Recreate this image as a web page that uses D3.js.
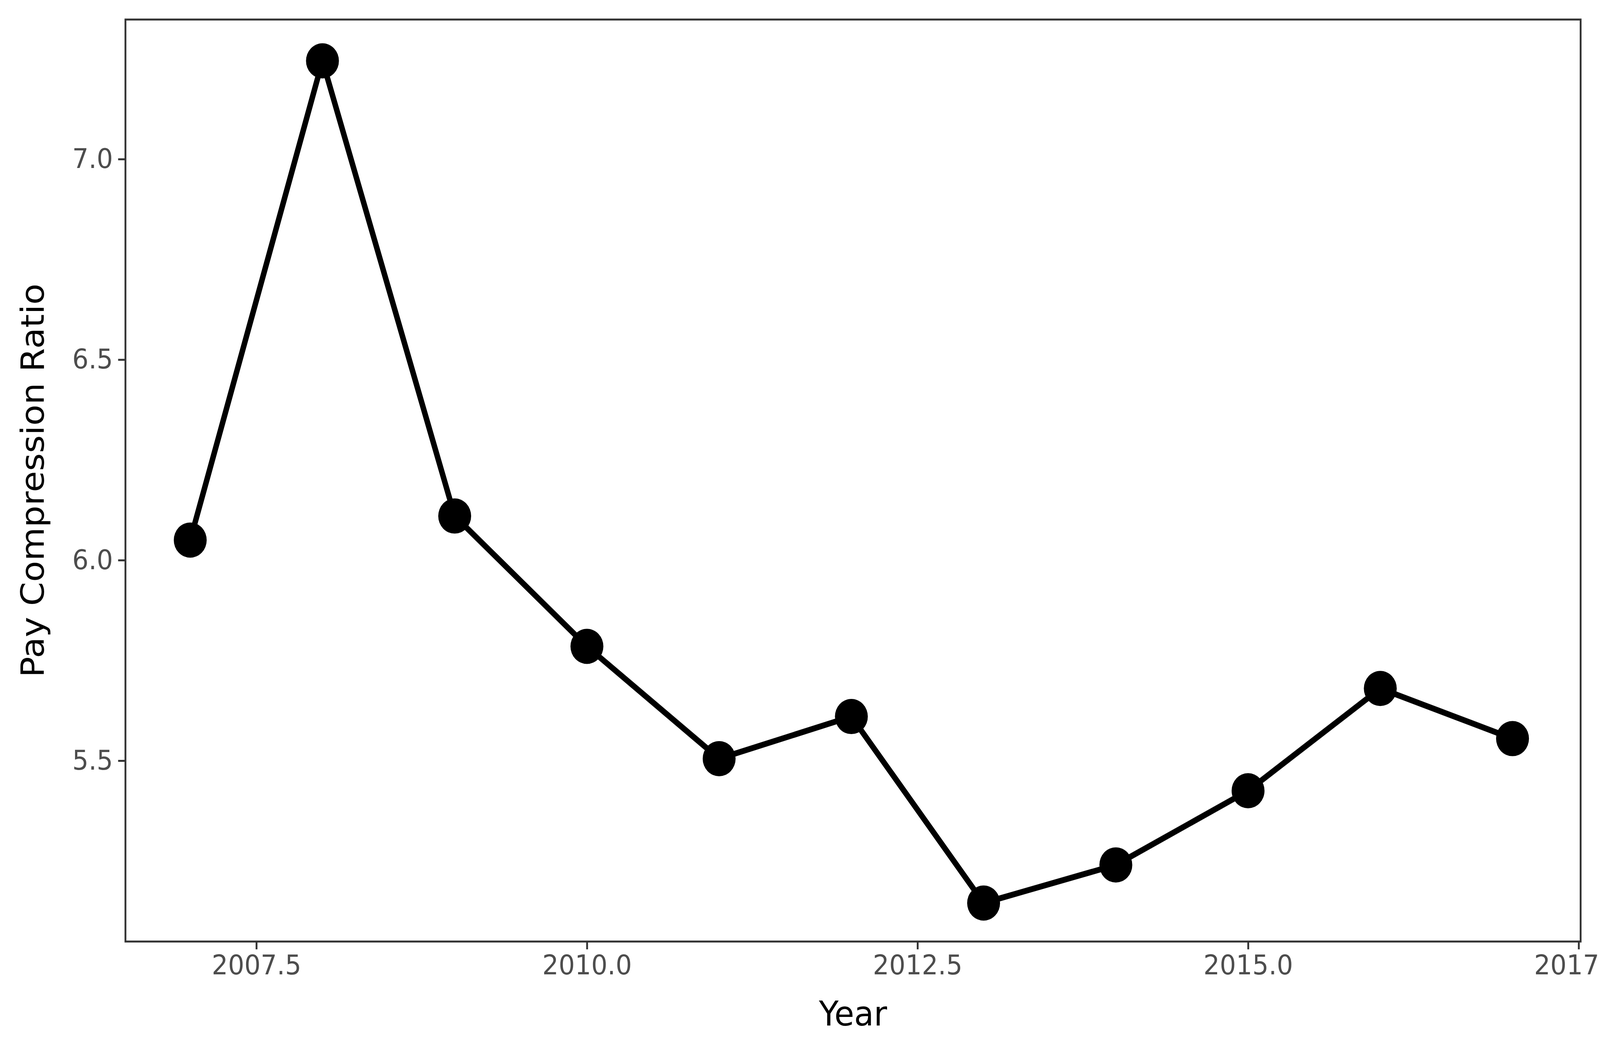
<!DOCTYPE html><html><head><script src="https://cdn.jsdelivr.net/npm/d3@7"></script>
<style>html,body{margin:0;padding:0;background:#fff;overflow:hidden}svg{display:block}</style></head><body><script>
const years=[2007,2008,2009,2010,2011,2012,2013,2014,2015,2016,2017];
const ratios=[6.05,7.245,6.11,5.785,5.505,5.61,5.145,5.24,5.425,5.68,5.555];
const xTicks=[2007.5,2010.0,2012.5,2015.0,2017.5];
const yTicks=[5.5,6.0,6.5,7.0];
const W=4375,H=2703,L=343,T=50,R=4322,B=2410;
const svg=d3.select("body").append("svg").attr("width","100vw").attr("height","100vh")
  .attr("viewBox",`0 0 ${W} ${H}`).attr("preserveAspectRatio","none").style("overflow","hidden");
const x=d3.scaleLinear().domain([2006.51,2017.515]).range([L,R]);
const y=d3.scaleLinear().domain([5.049,7.348]).range([B,T]);
const font="DejaVu Sans";
const xa=svg.append("g").attr("transform",`translate(0,${B})`).call(d3.axisBottom(x).tickValues(xTicks).tickFormat(d3.format(".1f")).tickSize(20).tickPadding(14));
const ya=svg.append("g").attr("transform",`translate(${L},0)`).call(d3.axisLeft(y).tickValues(yTicks).tickFormat(d3.format(".1f")).tickSize(20).tickPadding(14));
[xa,ya].forEach(a=>{a.select(".domain").remove();a.selectAll("line").attr("stroke","#333").attr("stroke-width",5);
a.selectAll("text").attr("fill","#4d4d4d").attr("font-size",70).attr("font-family",font);});
svg.append("path").datum(years.map((d,i)=>[d,ratios[i]])).attr("fill","none").attr("stroke","#000").attr("stroke-width",15)
.attr("d",d3.line().x(d=>x(d[0])).y(d=>y(d[1])));
svg.selectAll("circle").data(years).join("circle").attr("cx",d=>x(d)).attr("cy",(d,i)=>y(ratios[i])).attr("r",45).attr("fill","#000");
svg.append("rect").attr("x",L).attr("y",T).attr("width",R-L).attr("height",B-T).attr("fill","none").attr("stroke","#333").attr("stroke-width",5);
svg.append("text").attr("x",(L+R)/2).attr("y",2625).attr("text-anchor","middle").attr("font-size",88).attr("font-family",font).text("Year");
svg.append("text").attr("transform",`translate(120,${(T+B)/2}) rotate(-90)`).attr("text-anchor","middle").attr("font-size",88).attr("font-family",font).text("Pay Compression Ratio");
</script></body></html>
